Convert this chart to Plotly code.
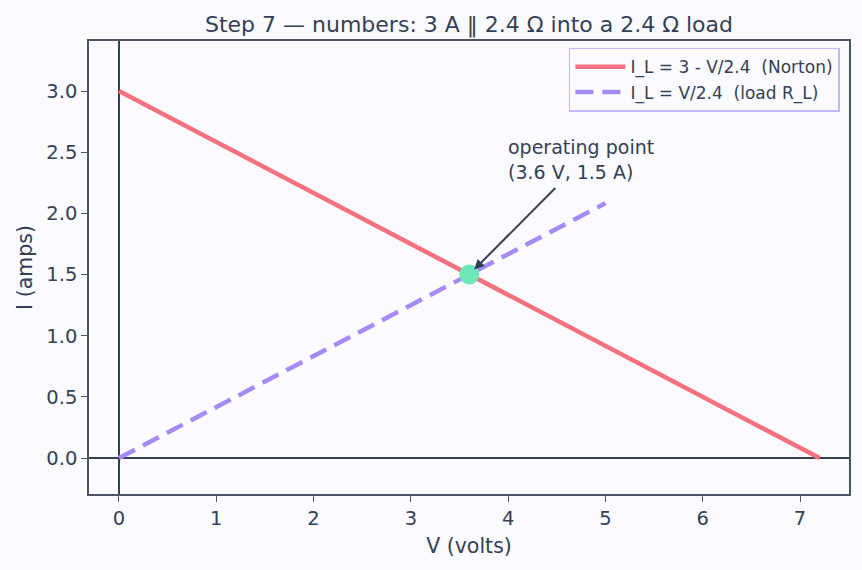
import plotly.graph_objects as go

# Data
norton_v = [0.0, 7.2]
norton_i = [3.0, 0.0]
load_v = [0.0, 5.0]
load_i = [0.0, 5.0 / 2.4]
op_v = [3.6]
op_i = [1.5]

x_ticks = [0, 1, 2, 3, 4, 5, 6, 7]
y_ticks = [0.0, 0.5, 1.0, 1.5, 2.0, 2.5, 3.0]

BG = "#fbfaff"
INK = "#334155"
FONT = "DejaVu Sans"

fig = go.Figure()
fig.add_trace(go.Scatter(x=norton_v, y=norton_i, mode="lines",
                         name="I_L = 3 - V/2.4 \u00a0(Norton)",
                         line=dict(color="#f4717f", width=4.5)))
fig.add_trace(go.Scatter(x=load_v, y=load_i, mode="lines",
                         name="I_L = V/2.4 \u00a0(load R_L)",
                         line=dict(color="#a58bf5", width=4.5, dash="18px,9px")))
fig.add_trace(go.Scatter(x=op_v, y=op_i, mode="markers", showlegend=False,
                         marker=dict(color="#6ee7b7", size=20, line=dict(width=0))))

fig.add_annotation(x=3.6, y=1.5, ax=4.5, ay=2.22, xref="x", yref="y",
                   axref="x", ayref="y", text="", showarrow=True,
                   arrowhead=2, arrowsize=1, arrowwidth=2, arrowcolor=INK,
                   standoff=7)
fig.add_annotation(x=4.0, y=2.23, xref="x", yref="y", text="operating point<br>(3.6 V, 1.5 A)",
                   showarrow=False, xanchor="left", yanchor="bottom", align="left",
                   xshift=-2, font=dict(family=FONT, size=19, color=INK))

axis_common = dict(
    showgrid=False, zeroline=True, zerolinecolor=INK, zerolinewidth=1.5,
    showline=True, linecolor="#4b5563", linewidth=1.5, mirror=True,
    ticks="outside", ticklen=6, tickwidth=1.3, tickcolor="#4b5563",
    tickfont=dict(family=FONT, size=19.5, color=INK),
)

fig.update_layout(
    width=862, height=570,
    paper_bgcolor=BG, plot_bgcolor=BG,
    margin=dict(l=89, r=13, t=41, b=76),
    title=dict(text="Step 7 — numbers: 3 A ‖ 2.4 Ω into a 2.4 Ω load",
               x=0.5 + (89 - 13) / 2 / 862, xanchor="center", y=1 - 24 / 570, yanchor="middle",
               font=dict(family=FONT, size=22, color=INK)),
    xaxis=dict(range=[-0.308, 7.503], tickvals=x_ticks, ticktext=[str(v) for v in x_ticks],
               title=dict(text="V (volts)", font=dict(family=FONT, size=20.5, color=INK), standoff=9),
               **axis_common),
    yaxis=dict(range=[-0.294, 3.409], tickvals=y_ticks, ticktext=[f"{v:.1f}" for v in y_ticks],
               title=dict(text="I (amps)", font=dict(family=FONT, size=20.5, color=INK), standoff=8),
               **axis_common),
    legend=dict(x=0.988, y=0.985, xanchor="right", yanchor="top",
                bgcolor=BG, bordercolor="#c4b5fd", borderwidth=1.5, itemwidth=50,
                font=dict(family=FONT, size=17, color=INK), tracegroupgap=0),
    showlegend=True,
)

fig.write_html("out.html")
